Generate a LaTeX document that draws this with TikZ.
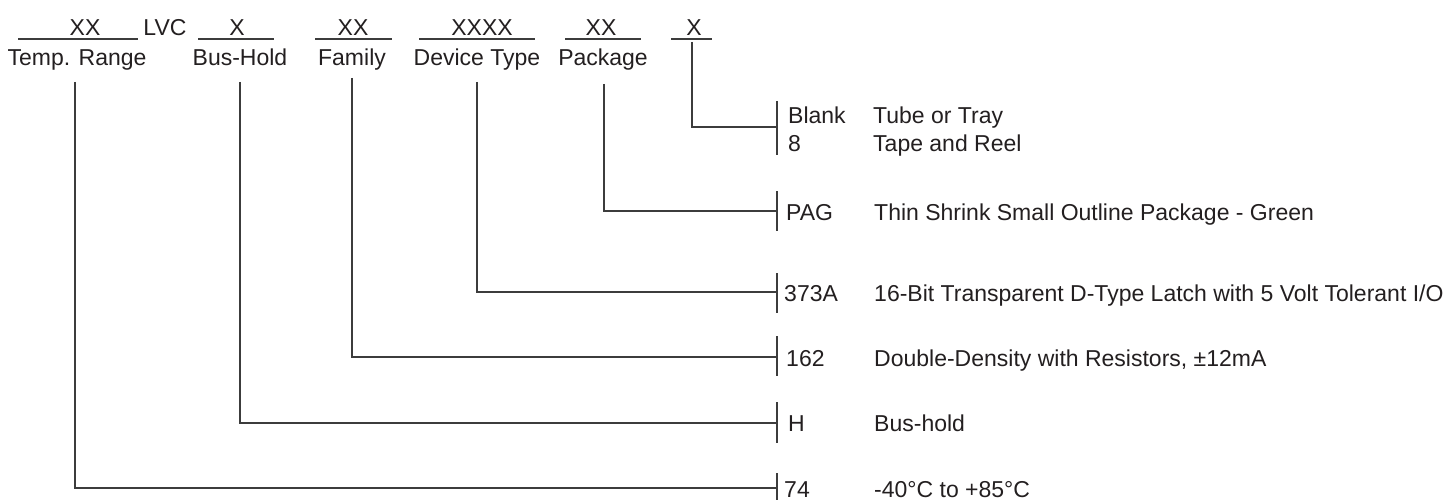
\documentclass[tikz,border=0pt]{standalone}
\usepackage{fontspec}
\setmainfont{Liberation Sans}
\usepackage{xcolor}
\definecolor{inkgray}{HTML}{231F20}
\definecolor{rulegray}{HTML}{3C3C3C}
\usetikzlibrary{positioning,calc}

\tikzset{
  txt/.style={inner sep=0pt,font=\fontsize{23}{27}\selectfont,text=inkgray},
  field/.style={txt,anchor=base},
  codetxt/.style={txt,anchor=base west},
  rule/.style={draw=rulegray,line width=1.2pt},
}

\begin{document}
\begin{tikzpicture}[x=1pt,y=-1pt]
  \useasboundingbox (0,0) rectangle (1455,500);

  % Part number fields
  \node[field] (f-temp) at (85,35.5) {XX};
  \node[field] (f-lvc)  at (165,35.5) {LVC};
  \node[field] (f-bus)  at (237,35.5) {X};
  \node[field] (f-fam)  at (353,35.5) {XX};
  \node[field] (f-dev)  at (482,35.5) {XXXX};
  \node[field] (f-pkg)  at (601,35.5) {XX};
  \node[field] (f-opt)  at (694,35.5) {X};
  \foreach \a/\b in {18/138,198/274,315/392,419/535,565/641,671/712}
    \draw[rule] (\a,39) -- (\b,39);

  % Field names
  \node[field] (n-temp) at (77,66) {Temp. Range};
  \node[field] (n-bus)  at (240,66) {Bus-Hold};
  \node[field] (n-fam)  at (352,66) {Family};
  \node[field] (n-dev)  at (477,66) {Device Type};
  \node[field] (n-pkg)  at (603,66) {Package};

  % Foot points of the leaders
  \coordinate (temp-foot) at (75,82);
  \coordinate (bus-foot)  at (240,82);
  \coordinate (fam-foot)  at (352,78);
  \coordinate (dev-foot)  at (477,82);
  \coordinate (pkg-foot)  at (604,84);
  \coordinate (opt-foot)  at (692,42);

  % Brackets
  \foreach \t/\m/\b/\nm in {101/127/155/opt,191/211/231/pkg,273/292/313/dev,
                            336/357/376/fam,402/423/443/bus,473/488/500/temp}{
    \draw[rule] (777,\t) -- (777,\b);
    \coordinate (\nm-tap) at (777,\m);
  }

  % Leaders
  \draw[rule] (opt-foot)  |- (opt-tap);
  \draw[rule] (pkg-foot)  |- (pkg-tap);
  \draw[rule] (dev-foot)  |- (dev-tap);
  \draw[rule] (fam-foot)  |- (fam-tap);
  \draw[rule] (bus-foot)  |- (bus-tap);
  \draw[rule] (temp-foot) |- (temp-tap);

  % Codes and meanings
  \node[codetxt] (c-blank) at (788,124) {Blank};
  \node[codetxt] (c-eight) at (788,151) {8};
  \node[codetxt] (d-blank) at (873,124) {Tube or Tray};
  \node[codetxt] (d-eight) at (873,151) {Tape and Reel};

  \node[codetxt] (c-pag)  at (786,220) {PAG};
  \node[codetxt] (d-pag)  at (874,220) {Thin Shrink Small Outline Package - Green};
  \node[codetxt] (c-373a) at (784,301) {373A};
  \node[codetxt] (d-373a) at (874,301) {16-Bit Transparent D-Type Latch with 5 Volt Tolerant I/O};
  \node[codetxt] (c-162)  at (786,366) {162};
  \node[codetxt] (d-162)  at (874,366) {Double-Density with Resistors, ±12mA};
  \node[codetxt] (c-h)    at (788,431) {H};
  \node[codetxt] (d-h)    at (874,431) {Bus-hold};
  \node[codetxt] (c-74)   at (784,497) {74};
  \node[codetxt] (d-74)   at (874,497) {-40°C to +85°C};
\end{tikzpicture}
\end{document}
